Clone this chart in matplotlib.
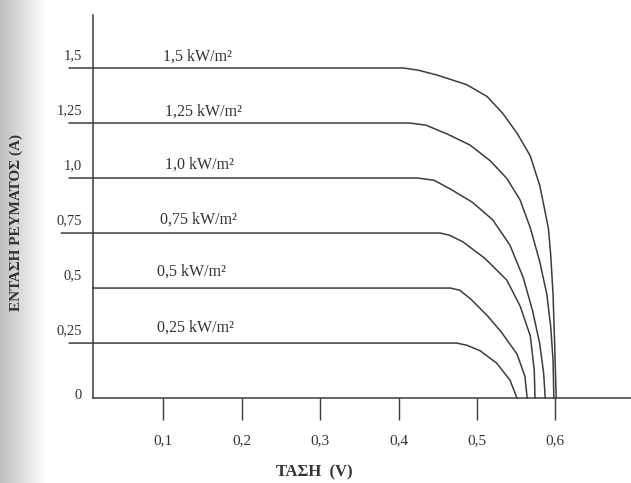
import matplotlib
matplotlib.use("Agg")
import matplotlib.pyplot as plt
import numpy as np

irr_labels = ['1,5 kW/m²', '1,25 kW/m²', '1,0 kW/m²',
              '0,75 kW/m²', '0,5 kW/m²', '0,25 kW/m²']

v_150 = [-0.02, 0.406, 0.425, 0.449, 0.487, 0.513, 0.533, 0.551, 0.568, 0.580,
         0.587, 0.591, 0.594, 0.597, 0.599, 0.601]
i_150 = [1.50, 1.50, 1.49, 1.468, 1.424, 1.37, 1.293, 1.204, 1.10, 0.966,
         0.844, 0.772, 0.651, 0.47, 0.247, 0.0]

v_125 = [-0.02, 0.414, 0.435, 0.462, 0.491, 0.517, 0.538, 0.555, 0.568, 0.580,
         0.589, 0.594, 0.597, 0.598]
i_125 = [1.25, 1.25, 1.24, 1.20, 1.15, 1.078, 0.998, 0.90, 0.773, 0.62,
         0.472, 0.324, 0.17, 0.0]

v_100 = [-0.02, 0.424, 0.445, 0.466, 0.494, 0.520, 0.542, 0.559, 0.571, 0.580,
         0.585, 0.587]
i_100 = [1.0, 1.0, 0.99, 0.95, 0.89, 0.81, 0.695, 0.547, 0.395, 0.247,
         0.112, 0.0]

v_075 = [-0.03, 0.453, 0.465, 0.482, 0.510, 0.538, 0.555, 0.568, 0.573, 0.574]
i_075 = [0.75, 0.75, 0.74, 0.71, 0.635, 0.536, 0.418, 0.282, 0.127, 0.0]

v_050 = [0.01, 0.466, 0.478, 0.492, 0.513, 0.531, 0.551, 0.561, 0.564]
i_050 = [0.5, 0.5, 0.49, 0.45, 0.375, 0.30, 0.20, 0.10, 0.0]

v_025 = [-0.02, 0.474, 0.487, 0.504, 0.525, 0.542, 0.551]
i_025 = [0.25, 0.25, 0.24, 0.215, 0.159, 0.082, 0.0]

curves_v = [v_150, v_125, v_100, v_075, v_050, v_025]
curves_i = [i_150, i_125, i_100, i_075, i_050, i_025]

# curve label anchors (left end, centre height)
label_v = [0.100, 0.102, 0.102, 0.096, 0.092, 0.092]
label_i = [1.55, 1.30, 1.06, 0.81, 0.575, 0.32]

# axis ticks
y_levels = [1.5, 1.25, 1.0, 0.75, 0.5, 0.25, 0]
y_tick_labels = ['1,5', '1,25', '1,0', '0,75', '0,5', '0,25', '0']
x_ticks = [0.1, 0.2, 0.3, 0.4, 0.5, 0.6]
x_tick_labels = ['0,1', '0,2', '0,3', '0,4', '0,5', '0,6']

plt.rcParams['font.family'] = ['Liberation Serif', 'DejaVu Serif']
ink = '#3c3c3c'
txt = '#333333'

fig = plt.figure(figsize=(6.31, 4.83), dpi=100)
fig.patch.set_facecolor('white')

# greyish scan shading along the left edge
bg = fig.add_axes([0, 0, 0.075, 1], zorder=0)
grad = np.linspace(0.70, 1.0, 64) ** 0.8
bg.imshow(grad[np.newaxis, :], cmap='gray', vmin=0, vmax=1, aspect='auto',
          extent=[0, 1, 0, 1])
bg.axis('off')

ax = fig.add_axes([0, 0, 1, 1], zorder=1)
ax.patch.set_alpha(0)

for v, i in zip(curves_v, curves_i):
    ax.plot(v, i, color=ink, linewidth=1.1, solid_joinstyle='round')

for lv, li, lab in zip(label_v, label_i, irr_labels):
    ax.text(lv, li, lab, fontsize=11.5, color=txt, ha='left', va='center')

for lev, lab in zip(y_levels, y_tick_labels):
    if lev == 0:
        ax.text(-0.004, lev + 0.01, lab, fontsize=10.5, color=txt,
                ha='right', va='center')
    else:
        ax.text(-0.004, lev + 0.028, lab, fontsize=10.5, color=txt,
                ha='right', va='bottom')

ax.set_xlim(-0.1084, 0.6964)
ax.set_ylim(-0.386, 1.809)

for s in ['top', 'right']:
    ax.spines[s].set_visible(False)
ax.spines['left'].set_position(('data', 0.01))
ax.spines['left'].set_bounds(0, 1.74)
ax.spines['bottom'].set_position(('data', 0))
ax.spines['bottom'].set_bounds(0.01, 0.6964)
for s in ['left', 'bottom']:
    ax.spines[s].set_color(ink)
    ax.spines[s].set_linewidth(1.1)

ax.set_yticks([])
ax.set_xticks(x_ticks, x_tick_labels)
ax.tick_params(axis='x', direction='out', length=16, width=1.0, color=ink,
               pad=10, labelsize=11, labelcolor=txt)

ax.text(0.293, -0.34, 'ΤΑΣΗ  (V)', fontsize=12, color=txt,
        ha='center', va='center', fontweight='bold')
ax.text(-0.088, 0.80, 'ΕΝΤΑΣΗ ΡΕΥΜΑΤΟΣ (A)', fontsize=11, color=txt,
        ha='center', va='center', rotation=90, fontweight='bold')

fig.savefig('out.png', dpi=100)
